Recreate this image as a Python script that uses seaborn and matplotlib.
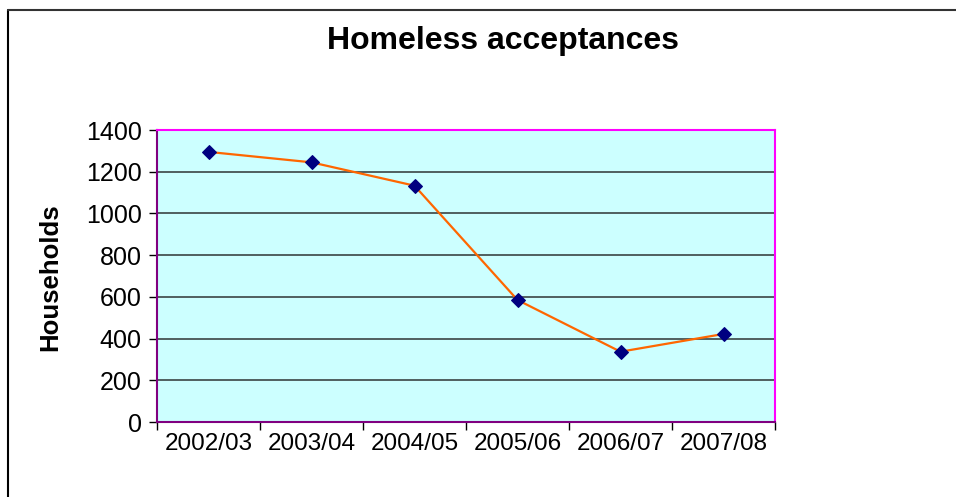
import matplotlib
matplotlib.use("Agg")
import matplotlib.pyplot as plt
import seaborn as sns
import pandas as pd
from matplotlib.lines import Line2D

years = ["2002/03", "2003/04", "2004/05", "2005/06", "2006/07", "2007/08"]
households = [1295, 1245, 1133, 585, 337, 422]
y_ticks = [0, 200, 400, 600, 800, 1000, 1200, 1400]

sns.set_style("white")
plt.rcParams['font.family'] = ['Liberation Sans', 'DejaVu Sans']
plt.rcParams['text.color'] = 'black'
plt.rcParams['xtick.color'] = 'black'
plt.rcParams['ytick.color'] = 'black'
plt.rcParams['axes.labelcolor'] = 'black'

df = pd.DataFrame({"year": years, "households": households})

fig = plt.figure(figsize=(9.56, 4.97), dpi=100)
ax = fig.add_axes([157/956, 1-422/497, (775-157)/956, (422-130)/497])
ax.set_facecolor("#CCFFFF")

sns.lineplot(data=df, x="year", y="households", ax=ax, color="#FF6600",
             linewidth=1.6, marker="D", markersize=7, markerfacecolor="#000080",
             markeredgecolor="#000080", sort=False)

n = len(years)
ax.set_xlim(-0.5, n - 0.5)
ax.set_ylim(0, 1400)
ax.set_yticks(y_ticks)
ax.set_yticklabels([str(v) for v in y_ticks])
ax.set_xticks([i - 0.5 for i in range(n + 1)])
ax.set_xticklabels([])
ax.set_xticks(range(n), minor=True)
ax.set_xticklabels(years, minor=True)
ax.tick_params(axis="x", which="major", direction="out", length=6, width=1, color="#000000", bottom=True)
ax.tick_params(axis="x", which="minor", length=0, pad=8, labelsize=17.5, labelcolor="black")
ax.tick_params(axis="y", which="major", direction="out", length=6, width=1, color="#000000", left=True,
               labelsize=18, pad=5, labelcolor="black")

ax.grid(axis="y", color="#4F5F5F", linewidth=1.4)
ax.set_axisbelow(True)
for side in ["top", "right"]:
    ax.spines[side].set_color("#FF00FF")
    ax.spines[side].set_linewidth(1.5)
for side in ["left", "bottom"]:
    ax.spines[side].set_color("#800080")
    ax.spines[side].set_linewidth(1.5)

ax.set_xlabel("")
ax.set_ylabel("")
fig.text(50/956, 1-277/497, "Households", rotation=90, ha="center", va="center",
         fontsize=18.5, fontweight="bold", color="black")
fig.text(503/956, 1-41/497, "Homeless acceptances", ha="center", va="center",
         fontsize=23, fontweight="bold", color="black")

# outer frame (top and left visible)
fig.add_artist(Line2D([8/956, 8/956], [0, 1-10/497], transform=fig.transFigure, color="black", linewidth=1.5))
fig.add_artist(Line2D([8/956, 1], [1-10/497, 1-10/497], transform=fig.transFigure, color="#333333", linewidth=1.5))

fig.savefig("out.png", dpi=100)
